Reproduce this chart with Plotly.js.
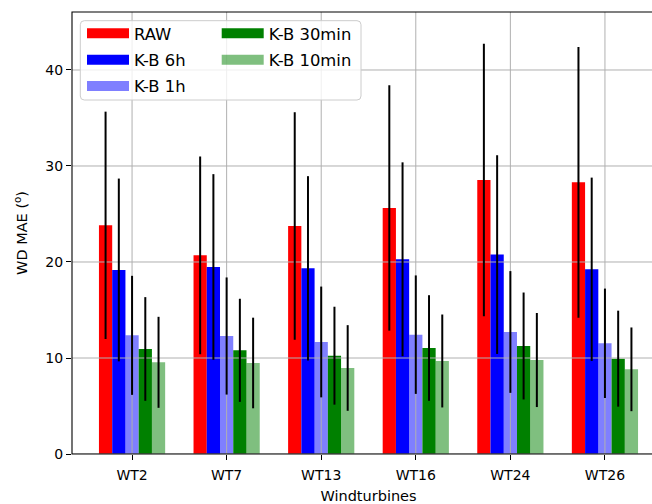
<!DOCTYPE html>
<html><head><meta charset="utf-8">
<script src="https://cdn.plot.ly/plotly-3.0.1.min.js"></script>
<style>html,body{margin:0;padding:0;overflow:hidden;background:#fff}#chart{width:680px;height:504px}</style>
</head><body><div id="chart"></div>
<script>
// ---- data ----
const turbines = ['WT2', 'WT7', 'WT13', 'WT16', 'WT24', 'WT26'];
const seriesNames = ['RAW', 'K-B 6h', 'K-B 1h', 'K-B 30min', 'K-B 10min'];
const rawMae     = [23.82, 20.69, 23.75, 25.63, 28.54, 28.30];
const kb6hMae    = [19.17, 19.48, 19.34, 20.28, 20.77, 19.24];
const kb1hMae    = [12.36, 12.29, 11.67, 12.43, 12.71, 11.53];
const kb30minMae = [10.94, 10.80, 10.24, 11.04, 11.25, 9.93];
const kb10minMae = [9.55, 9.48, 8.96, 9.69, 9.79, 8.82];
const rawErr     = [11.84, 10.30, 11.85, 12.78, 14.20, 14.10];
const kb6hErr    = [9.52, 9.67, 9.60, 10.10, 10.35, 9.55];
const kb1hErr    = [6.20, 6.10, 5.77, 6.17, 6.34, 5.70];
const kb30minErr = [5.40, 5.37, 5.10, 5.50, 5.57, 5.00];
const kb10minErr = [4.74, 4.72, 4.46, 4.84, 4.90, 4.36];
const yTickVals  = [0, 10, 20, 30, 40];

// ---- styling ----
const colors = ['#ff0000', '#0000ff', 'rgba(0,0,255,0.5)', '#008000', 'rgba(0,128,0,0.5)'];
const legendOf = ['legend', 'legend', 'legend', 'legend2', 'legend2'];
const values = [rawMae, kb6hMae, kb1hMae, kb30minMae, kb10minMae];
const errors = [rawErr, kb6hErr, kb1hErr, kb30minErr, kb10minErr];
const bargap = 0.3;
const barW = (1 - bargap) / seriesNames.length;
const xIdx = turbines.map((_, i) => i);
const gridColor = '#b0b0b0';

const traces = [];
// bars (bottom layer)
seriesNames.forEach((name, j) => {
  traces.push({
    type: 'bar', name: name, x: xIdx, y: values[j],
    marker: {color: colors[j], line: {width: 0}},
    showlegend: false, zorder: 0, hoverinfo: 'skip'
  });
});
// grid lines drawn above bars (as in matplotlib)
const vx = [], vy = [];
xIdx.forEach(i => { vx.push(i, i, null); vy.push(-1000, 1000, null); });
const hx = [], hy = [];
yTickVals.forEach(t => { hx.push(-1000, 1000, null); hy.push(t, t, null); });
traces.push({type: 'scatter', mode: 'lines', x: vx, y: vy, line: {color: gridColor, width: 1}, showlegend: false, zorder: 1, hoverinfo: 'skip'});
traces.push({type: 'scatter', mode: 'lines', x: hx, y: hy, line: {color: gridColor, width: 1}, showlegend: false, zorder: 1, hoverinfo: 'skip'});
// error bars above grid
seriesNames.forEach((name, j) => {
  const off = (j - (seriesNames.length - 1) / 2) * barW;
  traces.push({
    type: 'scatter', mode: 'markers', x: xIdx.map(i => i + off), y: values[j],
    marker: {color: 'rgba(0,0,0,0)', size: 1},
    error_y: {type: 'data', array: errors[j], visible: true, color: '#000', thickness: 2, width: 0},
    showlegend: false, zorder: 2, hoverinfo: 'skip', cliponaxis: false
  });
});
// legend entries
seriesNames.forEach((name, j) => {
  traces.push({
    type: 'scatter', mode: 'lines', x: [null], y: [null], name: name,
    line: {color: colors[j], width: 10}, legend: legendOf[j], legendgroup: name,
    showlegend: true, hoverinfo: 'skip'
  });
});

// legend frame (rounded rectangle in paper coords)
function roundRect(x0, y0, x1, y1, rx, ry) {
  return `M${x0 + rx},${y0} L${x1 - rx},${y0} Q${x1},${y0} ${x1},${y0 + ry} L${x1},${y1 - ry} Q${x1},${y1} ${x1 - rx},${y1} ` +
         `L${x0 + rx},${y1} Q${x0},${y1} ${x0},${y1 - ry} L${x0},${y0 + ry} Q${x0},${y0} ${x0 + rx},${y0} Z`;
}
const pw = 593, ph = 442;
const frame = {
  type: 'path', xref: 'paper', yref: 'paper', layer: 'above',
  path: roundRect(8.3 / pw, (454 - 100) / ph, 289 / pw, (454 - 20.7) / ph, 4 / pw, 4 / ph),
  fillcolor: 'rgba(255,255,255,0.8)', line: {color: '#cccccc', width: 1}
};
// axes frame (spines)
const spines = {
  type: 'rect', xref: 'paper', yref: 'paper', layer: 'above',
  x0: 0, x1: 1, y0: 0, y1: 1, line: {color: '#000', width: 1.1}, fillcolor: 'rgba(0,0,0,0)'
};

const axisCommon = {
  showgrid: false, zeroline: false, showline: true, mirror: true,
  linecolor: '#000', linewidth: 1, ticks: 'outside', ticklen: 5, tickwidth: 1, tickcolor: '#000',
  tickfont: {size: 14, color: '#000'}, automargin: false
};
const legendCommon = {
  xanchor: 'left', yanchor: 'top', bgcolor: 'rgba(0,0,0,0)', borderwidth: 0,
  font: {size: 16.4, color: '#000'}, traceorder: 'grouped', tracegroupgap: 2, itemwidth: 42
};

const layout = {
  width: 680, height: 504,
  margin: {l: 72, r: 15, t: 12, b: 50, pad: 0},
  paper_bgcolor: '#ffffff', plot_bgcolor: '#ffffff',
  font: {family: 'DejaVu Sans', color: '#000', size: 14},
  barmode: 'group', bargap: bargap, bargroupgap: 0,
  hovermode: false,
  xaxis: Object.assign({}, axisCommon, {
    range: [-0.635, 5.635], tickmode: 'array', tickvals: xIdx, ticktext: turbines,
    ticklabelstandoff: 3,
    title: {text: 'Windturbines', font: {size: 14.5, color: '#000'}, standoff: 11}
  }),
  yaxis: Object.assign({}, axisCommon, {
    range: [0, 46.04], tickmode: 'array', tickvals: yTickVals,
    title: {text: 'WD MAE (<sup>o</sup>)', font: {size: 14.5, color: '#000'}, standoff: 14}
  }),
  legend: Object.assign({}, legendCommon, {x: 10 / pw, y: (454 - 16.2) / ph}),
  legend2: Object.assign({}, legendCommon, {x: 144.7 / pw, y: (454 - 16.2) / ph}),
  shapes: [frame, spines]
};

Plotly.newPlot('chart', traces, layout, {staticPlot: true, displayModeBar: false});
</script>
</body></html>
